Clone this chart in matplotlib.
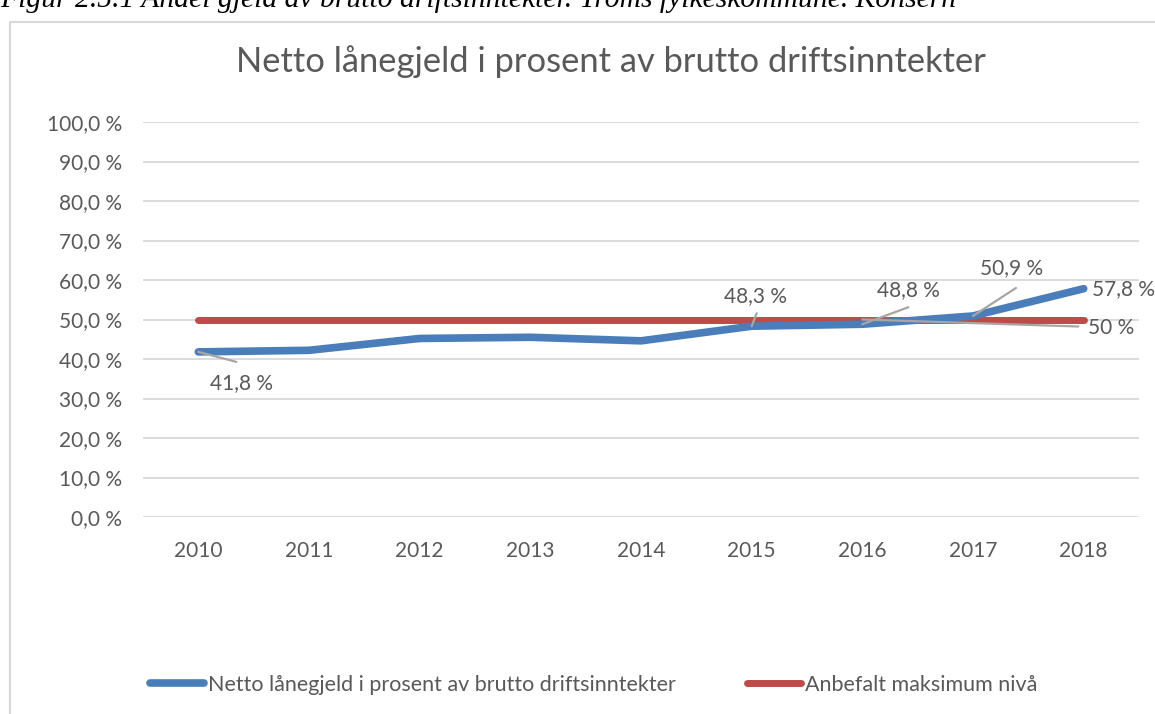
import matplotlib
matplotlib.use('Agg')
import matplotlib.pyplot as plt
from matplotlib.patches import Rectangle

# Data
years = ['2010', '2011', '2012', '2013', '2014', '2015', '2016', '2017', '2018']
netto_gjeld = [41.8, 42.2, 45.2, 45.5, 44.6, 48.3, 48.8, 50.9, 57.8]
maks_niva = [50.0, 50.0, 50.0, 50.0, 50.0, 50.0, 50.0, 50.0, 50.0]
y_ticks = [0, 10, 20, 30, 40, 50, 60, 70, 80, 90, 100]

blue = '#4A7EBB'
red = '#BE4B48'
grid_color = '#D9D9D9'
text_color = '#595959'
leader_color = '#A6A6A6'
font = ['Lato', 'DejaVu Sans']

W, H = 1155, 714
fig = plt.figure(figsize=(W / 100, H / 100), dpi=100, facecolor='white')

# Cropped caption above the chart frame
fig.text(0.0, 1 - 7 / H, 'Figur 2.5.1 Andel gjeld av brutto driftsinntekter. Troms fylkeskommune. Konsern',
         family='Liberation Serif', style='italic', fontsize=21.3, color='black',
         ha='left', va='baseline')

# Chart frame
fig.patches.append(Rectangle((10 / W, -0.1), 1.2, 1 - 22 / H + 0.1, transform=fig.transFigure,
                             facecolor='white', edgecolor=grid_color, linewidth=1.5, zorder=-1))

ax = fig.add_axes([143 / W, 1 - 517 / H, (1139 - 143) / W, (517 - 122) / H])
ax.set_facecolor('none')
x = list(range(len(years)))

ax.plot(x, maks_niva, color=red, linewidth=5, solid_capstyle='round', zorder=3,
        label='Anbefalt maksimum nivå')
ax.plot(x, netto_gjeld, color=blue, linewidth=5.5, solid_capstyle='round', zorder=4,
        label='Netto lånegjeld i prosent av brutto driftsinntekter')

ax.set_xlim(-0.5, len(years) - 0.5)
ax.set_ylim(0, 100)
ax.set_yticks(y_ticks)
ax.set_yticklabels([f'{v:.1f} %'.replace('.', ',') for v in y_ticks])
ax.set_xticks(x)
ax.set_xticklabels(years)
ax.grid(axis='y', color=grid_color, linewidth=1.3)
ax.set_axisbelow(True)
for spine in ax.spines.values():
    spine.set_visible(False)
ax.tick_params(length=0, colors=text_color, labelsize=15)
ax.tick_params(axis='y', pad=15)
ax.tick_params(axis='x', pad=17)
for lbl in ax.get_xticklabels() + ax.get_yticklabels():
    lbl.set_family(font)

# Data labels with leader lines (offsets in pixels)
labels = [
    # (series, index, label offset, leader end offset, ha)
    (netto_gjeld, 0, (43, -31), (38, -10), 'center'),
    (netto_gjeld, 5, (4, 30), (5, 13), 'center'),
    (netto_gjeld, 6, (46, 34), (46, 17), 'center'),
    (netto_gjeld, 7, (39, 48), (43, 28), 'center'),
    (netto_gjeld, 8, (8, 0), None, 'left'),
    (maks_niva, 6, (226, -8), (216, -7), 'left'),
]
for series, i, off, lead, ha in labels:
    val = series[i]
    txt = f'{val:.1f} %'.replace('.', ',') if val != round(val) else f'{val:.0f} %'
    if lead is not None:
        ax.annotate('', xy=(i, val), xytext=lead, textcoords='offset pixels',
                    arrowprops=dict(arrowstyle='-', color=leader_color, lw=1.6,
                                    shrinkA=0, shrinkB=0), zorder=5)
    ax.annotate(txt, xy=(i, val), xytext=off, textcoords='offset pixels',
                ha=ha, va='center', fontsize=15, color=text_color, family=font,
                annotation_clip=False, zorder=6)

fig.text(611 / W, 1 - 62 / H, 'Netto lånegjeld i prosent av brutto driftsinntekter',
         ha='center', va='center', fontsize=24.8, color=text_color, family=font)

handles, lbls = ax.get_legend_handles_labels()
leg = fig.legend(handles[::-1], lbls[::-1], loc='center', bbox_to_anchor=(594 / W, 1 - 685 / H),
                 ncol=2, frameon=False, handlelength=2.5, handletextpad=0.2,
                 columnspacing=3.3, prop={'family': font, 'size': 15.5})
for t in leg.get_texts():
    t.set_color(text_color)

fig.savefig('out.png', dpi=100, facecolor='white')
